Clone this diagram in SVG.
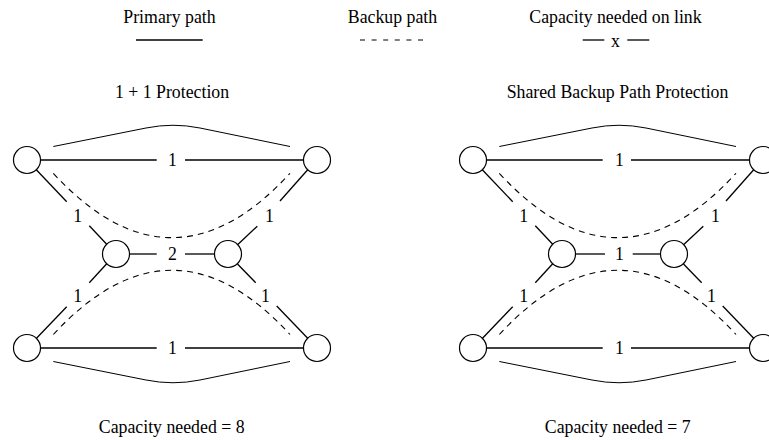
<svg xmlns="http://www.w3.org/2000/svg" width="769" height="440" viewBox="0 0 769 440">
<style>
text{font-family:"Liberation Serif","Times New Roman",serif;font-size:17.8px;fill:#000;text-anchor:middle}
.s{stroke:#000;stroke-width:1.3;fill:none}
.a{stroke:#000;stroke-width:1;fill:none}
.d{stroke:#000;stroke-width:1.1;fill:none;stroke-dasharray:6,5}
.n{stroke:#000;stroke-width:1.2;fill:#fff}
</style>
<rect width="769" height="440" fill="#fff"/>
<g id="legend">
<text x="169.5" y="22.7">Primary path</text>
<line class="s" x1="136" y1="40" x2="202.7" y2="40"/>
<text x="392.5" y="22.7">Backup path</text>
<line class="d" x1="360" y1="40" x2="424" y2="40" style="stroke-dasharray:5,6.6"/>
<text x="615.5" y="22.7">Capacity needed on link</text>
<line class="s" x1="582.7" y1="40" x2="604.3" y2="40"/>
<text x="615.5" y="46.7">x</text>
<line class="s" x1="627.3" y1="40" x2="649.3" y2="40"/>
</g>
<g id="titles">
<text x="172" y="97.7">1 + 1 Protection</text>
<text x="617.5" y="97.7">Shared Backup Path Protection</text>
<text x="171.7" y="433">Capacity needed = 8</text>
<text x="617.7" y="433">Capacity needed = 7</text>
</g>
<g id="left-diagram">
<g id="left-connectors">
<path class="a" d="M53.3,146.5 L146,128 Q173,122.5 200,128 L290,146.5"/>
<path class="a" d="M53.3,361.5 L146,380 Q173,385.5 200,380 L290,361.5"/>
<path class="d" d="M53.3,173.3 Q172,302 290,173.3"/>
<path class="d" d="M53.3,334.5 Q172,206 290,334.5"/>
<line class="s" x1="40.5" y1="160" x2="156.7" y2="160"/>
<line class="s" x1="185" y1="160" x2="303.5" y2="160"/>
<text x="172.5" y="166.3">1</text>
<line class="s" x1="129.5" y1="254" x2="156.7" y2="254"/>
<line class="s" x1="185" y1="254" x2="214.5" y2="254"/>
<text x="172.5" y="260.3">2</text>
<line class="s" x1="40.5" y1="348" x2="156.7" y2="348"/>
<line class="s" x1="185" y1="348" x2="303.5" y2="348"/>
<text x="172.5" y="354.3">1</text>
<line class="s" x1="36.3" y1="169.8" x2="66.7" y2="201.7"/>
<line class="s" x1="89.3" y1="225.7" x2="106.7" y2="244.2"/>
<text x="77.7" y="222.2">1</text>
<line class="s" x1="307.7" y1="169.8" x2="280" y2="201"/>
<line class="s" x1="257.3" y1="226.2" x2="237.8" y2="244.5"/>
<text x="269.5" y="222.2">1</text>
<line class="s" x1="106.7" y1="263.8" x2="89.3" y2="282.7"/>
<line class="s" x1="66.7" y1="306.7" x2="36.5" y2="338.2"/>
<text x="77.7" y="302.2">1</text>
<line class="s" x1="237.5" y1="264" x2="255.7" y2="282.7"/>
<line class="s" x1="276.7" y1="306" x2="307.7" y2="338.3"/>
<text x="265.5" y="301.5">1</text>
</g>
<g id="l-tl"><circle class="n" cx="27" cy="160" r="13.5"/></g>
<g id="l-tr"><circle class="n" cx="317" cy="160" r="13.5"/></g>
<g id="l-ml"><circle class="n" cx="116" cy="254" r="13.5"/></g>
<g id="l-mr"><circle class="n" cx="228" cy="254" r="13.5"/></g>
<g id="l-bl"><circle class="n" cx="27" cy="348" r="13.5"/></g>
<g id="l-br"><circle class="n" cx="317" cy="348" r="13.5"/></g>
</g>
<g id="right-diagram" transform="translate(446,0)">
<g id="right-connectors">
<path class="a" d="M53.3,146.5 L146,128 Q173,122.5 200,128 L290,146.5"/>
<path class="a" d="M53.3,361.5 L146,380 Q173,385.5 200,380 L290,361.5"/>
<path class="d" d="M53.3,173.3 Q172,302 290,173.3"/>
<path class="d" d="M53.3,334.5 Q172,206 290,334.5"/>
<line class="s" x1="40.5" y1="160" x2="156.7" y2="160"/>
<line class="s" x1="185" y1="160" x2="303.5" y2="160"/>
<text x="173.5" y="166.3">1</text>
<line class="s" x1="129.5" y1="254" x2="159" y2="254"/>
<line class="s" x1="186.7" y1="254" x2="214.5" y2="254"/>
<text x="173.5" y="260.3">1</text>
<line class="s" x1="40.5" y1="348" x2="156.7" y2="348"/>
<line class="s" x1="185" y1="348" x2="303.5" y2="348"/>
<text x="173.5" y="354.3">1</text>
<line class="s" x1="36.3" y1="169.8" x2="66.7" y2="201.7"/>
<line class="s" x1="89.3" y1="225.7" x2="106.7" y2="244.2"/>
<text x="77.7" y="222.2">1</text>
<line class="s" x1="307.7" y1="169.8" x2="280" y2="201"/>
<line class="s" x1="257.3" y1="226.2" x2="237.8" y2="244.5"/>
<text x="269.5" y="222.2">1</text>
<line class="s" x1="106.7" y1="263.8" x2="89.3" y2="282.7"/>
<line class="s" x1="66.7" y1="306.7" x2="36.5" y2="338.2"/>
<text x="77.7" y="302.2">1</text>
<line class="s" x1="237.5" y1="264" x2="255.7" y2="282.7"/>
<line class="s" x1="276.7" y1="306" x2="307.7" y2="338.3"/>
<text x="265.5" y="301.5">1</text>
</g>
<g id="r-tl"><circle class="n" cx="27" cy="160" r="13.5"/></g>
<g id="r-tr"><circle class="n" cx="317" cy="160" r="13.5"/></g>
<g id="r-ml"><circle class="n" cx="116" cy="254" r="13.5"/></g>
<g id="r-mr"><circle class="n" cx="228" cy="254" r="13.5"/></g>
<g id="r-bl"><circle class="n" cx="27" cy="348" r="13.5"/></g>
<g id="r-br"><circle class="n" cx="317" cy="348" r="13.5"/></g>
</g>
</svg>
